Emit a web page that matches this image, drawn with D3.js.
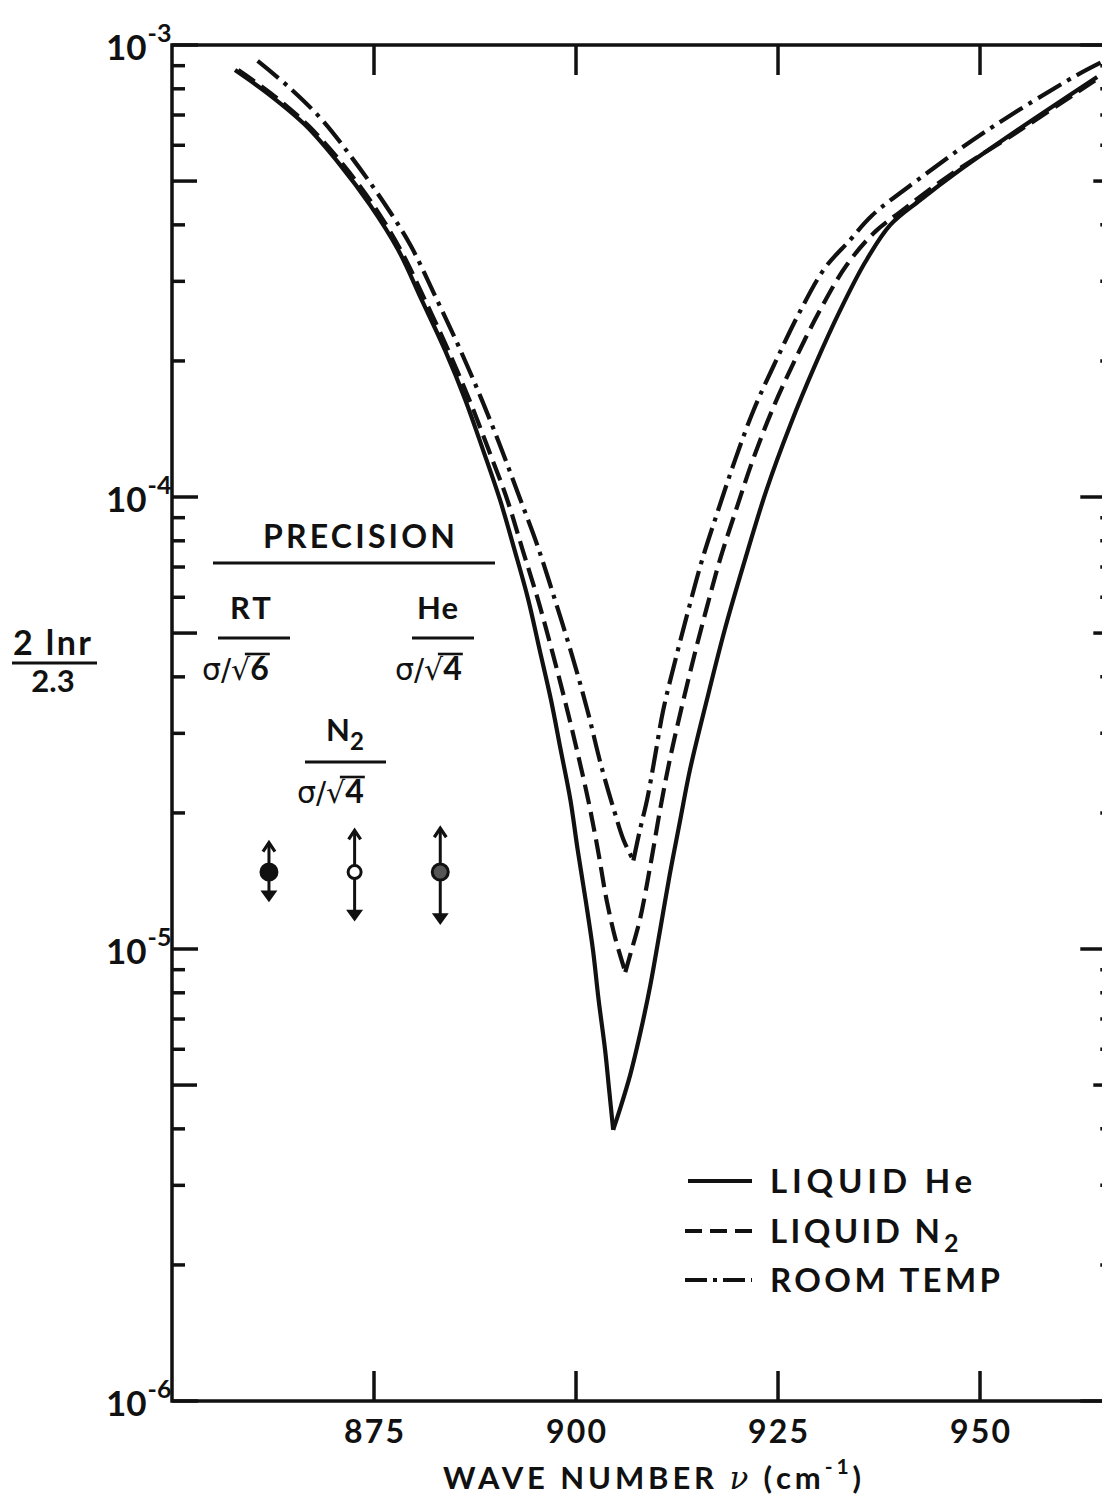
<!DOCTYPE html>
<html>
<head>
<meta charset="utf-8">
<script src="https://cdn.jsdelivr.net/npm/d3@7"></script>
<style>
  html, body { margin: 0; padding: 0; background: #ffffff; }
  svg text { font-family: Lato, "DejaVu Sans", sans-serif; fill: #111111; font-weight: 700; }
</style>
</head>
<body>
<svg id="chart" width="1102" height="1500"></svg>
<script>
// Reflectivity term 2 ln r / 2.3 versus wave number for three sample temperatures
const heWaveNumber = [857.8, 862.1, 866.5, 870.8, 874.5, 878.0, 880.9, 883.8, 886.3, 888.5, 890.6, 892.4, 894.1, 895.5, 896.9, 898.1, 899.3, 900.2, 901.2, 902.1, 902.8, 903.6, 904.1, 904.6,
  905.4, 906.7, 907.9, 909.2, 910.4, 911.6, 912.9, 914.1, 916.2, 918.4, 920.9, 923.6, 926.5, 929.6, 932.7, 935.8, 938.9, 942.6, 947.5, 954.6, 964.5];
const heValue = [8.80e-4, 7.75e-4, 6.65e-4, 5.43e-4, 4.43e-4, 3.52e-4, 2.73e-4, 2.11e-4, 1.64e-4, 1.27e-4, 9.85e-5, 7.63e-5, 5.92e-5, 4.59e-5, 3.56e-5, 2.76e-5, 2.14e-5, 1.66e-5, 1.28e-5, 9.95e-6, 7.71e-6, 5.98e-6, 4.88e-6, 3.98e-6,
  4.40e-6, 5.26e-6, 6.45e-6, 8.32e-6, 1.10e-5, 1.46e-5, 1.93e-5, 2.49e-5, 3.56e-5, 5.08e-5, 7.25e-5, 1.04e-4, 1.44e-4, 1.96e-4, 2.59e-4, 3.31e-4, 4.00e-4, 4.54e-4, 5.29e-4, 6.48e-4, 8.50e-4];

const n2WaveNumber = [858.2, 862.5, 866.8, 871.2, 874.9, 878.3, 881.3, 884.2, 886.8, 889.2, 891.5, 893.4, 895.3, 897.0, 898.6, 900.1, 901.5, 902.7, 903.8, 904.9, 906.1,
  906.7, 907.9, 909.2, 910.4, 911.6, 913.0, 914.5, 916.1, 917.8, 919.8, 921.9, 924.3, 927.1, 930.2, 933.5, 937.0, 940.1, 946.3, 954.6, 964.5];
const n2Value = [8.80e-4, 7.75e-4, 6.65e-4, 5.43e-4, 4.43e-4, 3.52e-4, 2.73e-4, 2.11e-4, 1.64e-4, 1.27e-4, 9.85e-5, 7.63e-5, 5.92e-5, 4.59e-5, 3.56e-5, 2.76e-5, 2.14e-5, 1.66e-5, 1.28e-5, 1.05e-5, 8.89e-6,
  9.70e-6, 1.16e-5, 1.53e-5, 2.03e-5, 2.62e-5, 3.38e-5, 4.36e-5, 5.62e-5, 7.25e-5, 9.36e-5, 1.21e-4, 1.56e-4, 2.01e-4, 2.59e-4, 3.26e-4, 3.86e-4, 4.27e-4, 5.16e-4, 6.42e-4, 8.41e-4];

const rtWaveNumber = [860.6, 864.6, 868.6, 872.3, 876.0, 879.5, 882.5, 885.4, 888.1, 890.6, 892.9, 895.2, 897.4, 899.5, 901.4, 903.1, 904.7, 905.9, 907.1,
  907.9, 908.8, 909.7, 910.8, 912.3, 913.9, 915.6, 917.6, 919.7, 922.0, 924.8, 927.8, 930.8, 933.9, 936.6, 942.3, 950.4, 962.0, 966.1];
const rtValue = [9.22e-4, 8.03e-4, 6.82e-4, 5.62e-4, 4.54e-4, 3.61e-4, 2.80e-4, 2.17e-4, 1.68e-4, 1.30e-4, 1.01e-4, 7.83e-5, 5.92e-5, 4.47e-5, 3.38e-5, 2.55e-5, 2.03e-5, 1.74e-5, 1.57e-5,
  1.83e-5, 2.14e-5, 2.62e-5, 3.38e-5, 4.36e-5, 5.62e-5, 7.25e-5, 9.36e-5, 1.21e-4, 1.56e-4, 2.01e-4, 2.59e-4, 3.21e-4, 3.70e-4, 4.19e-4, 5.03e-4, 6.39e-4, 8.58e-4, 9.36e-4];

// Precision bars for each run, centred on a common reference level
const precisionNames = ["RT", "N2", "He"];
const precisionWaveNumber = [862.0, 872.6, 883.2];
const precisionCenter = [1.48e-5, 1.48e-5, 1.48e-5];
const precisionLow = [1.28e-5, 1.16e-5, 1.14e-5];
const precisionHigh = [1.72e-5, 1.83e-5, 1.85e-5];

// Axis ticks and labels
const xTickValues = [875, 900, 925, 950];
const xTickLabels = ["875", "900", "925", "950"];
const yDecades = [1e-3, 1e-4, 1e-5, 1e-6];
const yDecadeExponents = ["-3", "-4", "-5", "-6"];

const legendLabels = ["LIQUID He", "LIQUID N", "ROOM TEMP"];

const svg = d3.select("#chart");
const ink = "#111111";

const plot = { left: 172, top: 45, bottom: 1401, right: 1109.3 };
const x = d3.scaleLinear().domain([850, 966]).range([plot.left, plot.right]);
const y = d3.scaleLog().domain([1e-6, 1e-3]).range([plot.bottom, plot.top]);

svg.append("defs").append("clipPath").attr("id", "plot-clip")
  .append("rect")
  .attr("x", plot.left).attr("y", plot.top)
  .attr("width", plot.right - plot.left).attr("height", plot.bottom - plot.top);

// Frame
svg.append("rect")
  .attr("x", plot.left).attr("y", plot.top)
  .attr("width", plot.right - plot.left).attr("height", plot.bottom - plot.top)
  .attr("fill", "none").attr("stroke", ink).attr("stroke-width", 3.5);

// Log ticks on both vertical edges, pointing inward
const yTickValues = [];
[1e-6, 1e-5, 1e-4].forEach(d => { for (let k = 1; k <= 9; k++) yTickValues.push(k * d); });
yTickValues.push(1e-3);
const tickKind = v => {
  const m = Math.round(v / Math.pow(10, Math.floor(Math.log10(v) + 1e-9)));
  return m === 1 ? "decade" : (m === 5 ? "half" : "minor");
};
const leftLen = { decade: 26, half: 25, minor: 13 };
const rightLen = { decade: 29, half: 16, minor: 9 };

svg.append("g").selectAll("line").data(yTickValues).join("line")
  .attr("x1", plot.left).attr("x2", v => plot.left + leftLen[tickKind(v)])
  .attr("y1", v => y(v)).attr("y2", v => y(v))
  .attr("stroke", ink).attr("stroke-width", 3.5);
svg.append("g").selectAll("line").data(yTickValues).join("line")
  .attr("x1", plot.right).attr("x2", v => plot.right - rightLen[tickKind(v)])
  .attr("y1", v => y(v)).attr("y2", v => y(v))
  .attr("stroke", ink).attr("stroke-width", 3.5);

// x ticks on top and bottom edges
svg.append("g").selectAll("line").data(xTickValues).join("line")
  .attr("x1", v => x(v)).attr("x2", v => x(v))
  .attr("y1", plot.top).attr("y2", plot.top + 30)
  .attr("stroke", ink).attr("stroke-width", 3.5);
svg.append("g").selectAll("line").data(xTickValues).join("line")
  .attr("x1", v => x(v)).attr("x2", v => x(v))
  .attr("y1", plot.bottom).attr("y2", plot.bottom - 30)
  .attr("stroke", ink).attr("stroke-width", 3.5);

// x tick labels
svg.append("g").selectAll("text").data(xTickValues).join("text")
  .attr("x", v => x(v)).attr("y", 1443)
  .attr("text-anchor", "middle").attr("font-size", 32)
  .attr("textLength", 60).attr("lengthAdjust", "spacing")
  .text((v, i) => xTickLabels[i]);

// y decade labels: 10 with superscript exponent
yDecades.forEach((v, i) => {
  const t = svg.append("text")
    .attr("x", 106).attr("y", y(v) + 15)
    .attr("font-size", 35);
  t.append("tspan").text("10");
  t.append("tspan").attr("font-size", 25).attr("dy", -18).attr("dx", 1).text(yDecadeExponents[i]);
});

// x axis title
const xt = svg.append("text").attr("x", 443).attr("y", 1489)
  .attr("font-size", 31).attr("textLength", 418).attr("lengthAdjust", "spacing");
xt.append("tspan").text("WAVE NUMBER ");
xt.append("tspan").attr("font-style", "italic").attr("font-weight", 400)
  .attr("font-family", "'DejaVu Serif', serif").text("ν");
xt.append("tspan").text(" (cm");
xt.append("tspan").attr("font-size", 21).attr("dy", -15).text("-1");
xt.append("tspan").attr("dy", 15).text(")");

// y axis title written as a fraction
svg.append("text").attr("x", 52).attr("y", 655).attr("text-anchor", "middle")
  .attr("font-size", 34).attr("textLength", 78).attr("lengthAdjust", "spacing").text("2 lnr");
svg.append("line").attr("x1", 12).attr("x2", 97).attr("y1", 663).attr("y2", 663)
  .attr("stroke", ink).attr("stroke-width", 3);
svg.append("text").attr("x", 53).attr("y", 692).attr("text-anchor", "middle")
  .attr("font-size", 31).text("2.3");

// Curves: each drawn as a descending and an ascending branch meeting at the minimum
const series = [
  { nu: heWaveNumber, val: heValue, dash: null },
  { nu: n2WaveNumber, val: n2Value, dash: "20 8" },
  { nu: rtWaveNumber, val: rtValue, dash: "27 7 4 7" }
];
const lineGen = d3.line()
  .x(d => x(d[0])).y(d => y(d[1]))
  .curve(d3.curveCatmullRom.alpha(0.5));
const curves = svg.append("g").attr("clip-path", "url(#plot-clip)");
series.forEach(s => {
  const pts = d3.zip(s.nu, s.val);
  const iMin = d3.minIndex(s.val);
  [pts.slice(0, iMin + 1), pts.slice(iMin)].forEach(branch => {
    curves.append("path")
      .datum(branch)
      .attr("d", lineGen)
      .attr("fill", "none").attr("stroke", ink).attr("stroke-width", 4.2)
      .attr("stroke-linejoin", "round")
      .attr("stroke-dasharray", s.dash);
  });
});

// Precision block
svg.append("text").attr("x", 263).attr("y", 548)
  .attr("font-size", 32).attr("textLength", 192).attr("lengthAdjust", "spacing").text("PRECISION");
svg.append("line").attr("x1", 213).attr("x2", 495).attr("y1", 563).attr("y2", 563)
  .attr("stroke", ink).attr("stroke-width", 3);

function sigmaRoot(xLeft, baseline, n) {
  const t = svg.append("text").attr("x", xLeft).attr("y", baseline).attr("font-size", 32);
  t.append("tspan").attr("font-family", "'DejaVu Sans', sans-serif").attr("font-weight", 400)
    .attr("font-size", 30).text("σ/√");
  t.append("tspan").text(n);
  const node = t.node();
  const root = node.getExtentOfChar(2);
  const digit = node.getExtentOfChar(3);
  svg.append("line")
    .attr("x1", root.x + root.width * 0.72).attr("x2", digit.x + digit.width + 1)
    .attr("y1", baseline - 26).attr("y2", baseline - 26)
    .attr("stroke", ink).attr("stroke-width", 2.6);
}
function fracBar(x1, x2, yy) {
  svg.append("line").attr("x1", x1).attr("x2", x2).attr("y1", yy).attr("y2", yy)
    .attr("stroke", ink).attr("stroke-width", 3);
}

svg.append("text").attr("x", 252).attr("y", 619).attr("text-anchor", "middle")
  .attr("font-size", 31).attr("letter-spacing", 3).text(precisionNames[0]);
fracBar(218, 290, 638);
sigmaRoot(202, 680, "6");

svg.append("text").attr("x", 438).attr("y", 619).attr("text-anchor", "middle")
  .attr("font-size", 31).attr("letter-spacing", 1).text(precisionNames[2]);
fracBar(412, 474, 638);
sigmaRoot(395, 680, "4");

const n2t = svg.append("text").attr("x", 345).attr("y", 741).attr("text-anchor", "middle")
  .attr("font-size", 31);
n2t.append("tspan").text("N");
n2t.append("tspan").attr("font-size", 24).attr("dy", 9).text("2");
fracBar(305, 386, 762);
sigmaRoot(297, 803, "4");

// Precision error bars with arrow heads
const markerFill = ["#111111", "#ffffff", "#555555"];
const markerR = [8, 6.5, 8];
const bars = svg.append("g");
precisionWaveNumber.forEach((nu, i) => {
  const cx = x(nu);
  const yc = y(precisionCenter[i]);
  const yHi = y(precisionHigh[i]);
  const yLo = y(precisionLow[i]);
  bars.append("line").attr("x1", cx).attr("x2", cx).attr("y1", yHi + 2).attr("y2", yLo - 2)
    .attr("stroke", ink).attr("stroke-width", 3);
  bars.append("path")
    .attr("d", `M${cx - 6},${yHi + 9} L${cx},${yHi} L${cx + 6},${yHi + 9}`)
    .attr("fill", "none").attr("stroke", ink).attr("stroke-width", 3.2);
  bars.append("path")
    .attr("d", `M${cx - 6.5},${yLo - 9} L${cx},${yLo} L${cx + 6.5},${yLo - 9} Z`)
    .attr("fill", ink).attr("stroke", ink).attr("stroke-width", 2);
  bars.append("circle").attr("cx", cx).attr("cy", yc).attr("r", markerR[i])
    .attr("fill", markerFill[i]).attr("stroke", ink).attr("stroke-width", 3);
});

// Legend
const legendDash = [null, "17 8", "22 6 4 6"];
const legendY = [1181, 1231, 1280];
const legendTextLen = [202, 170, 230];
legendLabels.forEach((lab, i) => {
  svg.append("line").attr("x1", i === 0 ? 688 : 685).attr("x2", 752)
    .attr("y1", legendY[i]).attr("y2", legendY[i])
    .attr("stroke", ink).attr("stroke-width", 4)
    .attr("stroke-dasharray", legendDash[i]);
  svg.append("text").attr("x", 770).attr("y", legendY[i] + 12)
    .attr("font-size", 33).attr("textLength", legendTextLen[i]).attr("lengthAdjust", "spacing")
    .text(lab);
  if (i === 1) {
    svg.append("text").attr("x", 770 + legendTextLen[i] + 4).attr("y", legendY[i] + 21)
      .attr("font-size", 25).text("2");
  }
});
</script>
</body>
</html>
